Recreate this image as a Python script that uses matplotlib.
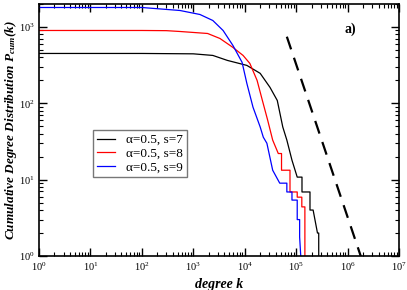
import math
import matplotlib
matplotlib.use("Agg")
import matplotlib.pyplot as plt
from matplotlib.ticker import LogLocator, FuncFormatter, NullFormatter

plt.rcParams['font.family'] = 'Liberation Serif'
plt.rcParams['mathtext.fontset'] = 'custom'
plt.rcParams['mathtext.rm'] = 'Liberation Serif'
plt.rcParams['mathtext.it'] = 'Liberation Serif:italic'
plt.rcParams['mathtext.bf'] = 'Liberation Serif:italic:bold'

# curves (degree k, cumulative count)
k_s7 = [1, 100, 1000, 2400, 4600, 1.1e4, 2.0e4, 3.1e4, 4.3e4, 5.5e4, 6.6e4,
        8.3e4, 1.05e5, 1.3e5, 1.3e5, 1.86e5, 1.86e5, 2.14e5, 2.6e5, 2.75e5, 2.75e5]
p_s7 = [450, 450, 445, 424, 365, 314, 247, 162, 109, 49, 33,
        18, 10.8, 10.8, 6.9, 6.9, 4, 4, 2, 2, 1]

k_s8 = [1, 100, 300, 550, 1900, 3300, 5900, 9300, 1.26e4, 1.74e4, 2.2e4, 2.8e4,
        3.5e4, 4.5e4, 5.2e4, 5.2e4, 7.6e4, 7.6e4, 1.05e5, 1.05e5, 1.29e5, 1.29e5,
        1.48e5, 1.48e5, 1.48e5]
p_s8 = [900, 900, 895, 873, 822, 707, 540, 424, 333, 200, 110, 60,
        33, 22, 22, 13.3, 13.3, 6.9, 6.9, 5.9, 5.9, 4.4, 4.4, 3, 1]

k_s9 = [1, 100, 550, 1350, 2400, 3800, 5900, 8900, 1.1e4, 1.45e4, 2.0e4, 2.3e4,
        2.7e4, 3.5e4, 3.5e4, 4.8e4, 6.6e4, 6.6e4, 8.3e4, 8.3e4, 1.05e5, 1.05e5,
        1.17e5, 1.17e5, 1.23e5]
p_s9 = [1800, 1800, 1645, 1457, 1216, 900, 573, 344, 183, 89, 49, 36,
        30, 13.3, 13.3, 9, 9, 6.9, 6.9, 5.4, 5.4, 3, 3, 1.77, 1]

labels = ['α=0.5, s=7', 'α=0.5, s=8', 'α=0.5, s=9']
colors = ['black', 'red', 'blue']

# guide line ~ k^-2
guide_k = [6.6e4, 1.85e6]
guide_amp = 3.25e12
guide_exp = -2.0

fig = plt.figure(figsize=(4.07, 2.9), dpi=100)
ax = fig.add_axes([0.0958, 0.1172, 0.8845, 0.8690])

for k, p, lab, c in zip([k_s7, k_s8, k_s9], [p_s7, p_s8, p_s9], labels, colors):
    ax.plot(k, p, color=c, lw=0.9, label=lab)

ax.plot(guide_k, [guide_amp * g ** guide_exp for g in guide_k],
        color='black', lw=1.6, dashes=(6, 4))

ax.set_xscale('log')
ax.set_yscale('log')
ax.set_xlim(1, 1e7)
ax.set_ylim(1, 2000)

fmt = FuncFormatter(lambda v, pos: r'$\mathregular{10^{%d}}$' % round(math.log10(v)))
for axis in (ax.xaxis, ax.yaxis):
    axis.set_major_locator(LogLocator(base=10, numticks=20))
    axis.set_minor_locator(LogLocator(base=10, subs=range(2, 10), numticks=20))
    axis.set_major_formatter(fmt)
    axis.set_minor_formatter(NullFormatter())

ax.tick_params(which='both', direction='in', top=True, right=True, labelsize=7.5, pad=3)
ax.tick_params(which='major', length=6, width=1)
ax.tick_params(which='minor', length=3, width=0.8)
for sp in ax.spines.values():
    sp.set_linewidth(1.2)

ax.set_xlabel('degree k', fontsize=10, fontweight='bold', fontstyle='italic', labelpad=4)
ax.set_ylabel(r'Cumulative Degree Distribution $\mathbf{P_{cum}(k)}$', fontsize=9.5,
              fontweight='bold', fontstyle='italic')
ax.yaxis.set_label_coords(-0.056, 0.5)

ax.text(0.85, 0.90, 'a)', transform=ax.transAxes, fontsize=10, fontweight='bold',
        va='center', ha='left')

leg = ax.legend(loc='upper left', bbox_to_anchor=(0.15, 0.5), borderaxespad=0,
                fontsize=9.5, frameon=True, fancybox=False, handlelength=1.4,
                handletextpad=0.8, borderpad=0.3, labelspacing=0.1)
leg.get_frame().set_edgecolor('#555555')
leg.get_frame().set_linewidth(1.0)

fig.savefig('out.png', dpi=100)
